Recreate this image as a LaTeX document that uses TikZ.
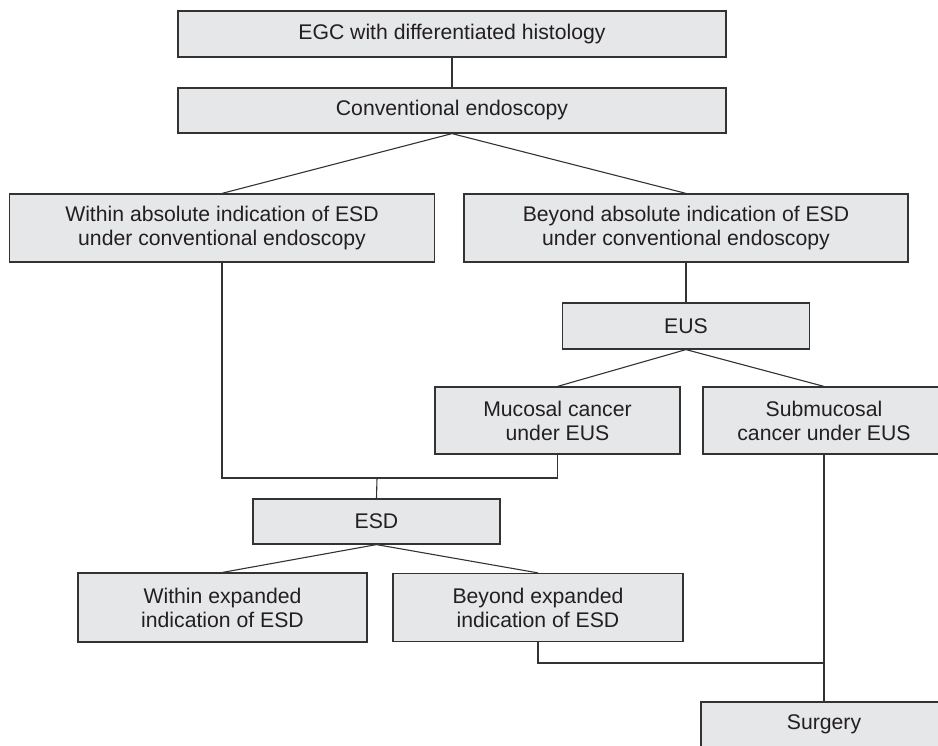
\documentclass[tikz,border=0pt]{standalone}
\usepackage{fontspec}
\setmainfont{Liberation Sans}
\definecolor{boxfill}{HTML}{E6E7E8}
\definecolor{boxline}{HTML}{333333}
\definecolor{txt}{HTML}{231F20}
\begin{document}
\begin{tikzpicture}[x=1pt,y=-1pt,
  box/.style={draw=boxline,fill=boxfill,line width=1.2pt,rectangle,inner sep=0pt,
    align=center,text=txt,font=\fontsize{21.2}{24}\selectfont},
  conn/.style={draw=boxline,line width=1.1pt}]
\useasboundingbox (0,0) rectangle (938,746);
\clip (0,0) rectangle (938,746);
\node[box,minimum width=548pt,minimum height=46pt] (egc) at (452,34) {EGC with differentiated histology};
\node[box,minimum width=548pt,minimum height=45pt] (conv) at (452,110.5) {Conventional endoscopy};
\node[box,minimum width=425pt,minimum height=68pt] (wabs) at (222,228) {Within absolute indication of ESD\\under conventional endoscopy};
\node[box,minimum width=444pt,minimum height=68pt] (babs) at (686,228) {Beyond absolute indication of ESD\\under conventional endoscopy};
\node[box,minimum width=247pt,minimum height=46pt] (eus) at (686,326) {EUS};
\node[box,minimum width=245pt,minimum height=67pt] (muc) at (557.5,420.5) {Mucosal cancer\\under EUS};
\node[box,minimum width=242pt,minimum height=67pt] (sub) at (824,420.5) {Submucosal\\cancer under EUS};
\node[box,minimum width=247pt,minimum height=45pt] (esd) at (376.5,521.5) {ESD};
\node[box,minimum width=289pt,minimum height=69pt] (wexp) at (222.5,607.5) {Within expanded\\indication of ESD};
\node[box,minimum width=290pt,minimum height=68pt] (bexp) at (538,607.5) {Beyond expanded\\indication of ESD};
\node[box,minimum width=246pt,minimum height=45pt] (surg) at (824,724.5) {Surgery};
\coordinate (j1) at (377,478);
\coordinate (j2) at (824,663);
\draw[conn] (egc.south) -- (conv.north);
\draw[conn] (conv.south) -- (wabs.north);
\draw[conn] (conv.south) -- (babs.north);
\draw[conn] (babs.south) -- (eus.north);
\draw[conn] (eus.south) -- (muc.north);
\draw[conn] (eus.south) -- (sub.north);
\draw[conn] (wabs.south) |- (j1) -| (muc.south);
\draw[conn] (j1) -- (esd.north);
\draw[conn] (esd.south) -- (wexp.north);
\draw[conn] (esd.south) -- (bexp.north);
\draw[conn] (sub.south) -- (surg.north);
\draw[conn] (bexp.south) |- (j2);
\end{tikzpicture}
\end{document}
